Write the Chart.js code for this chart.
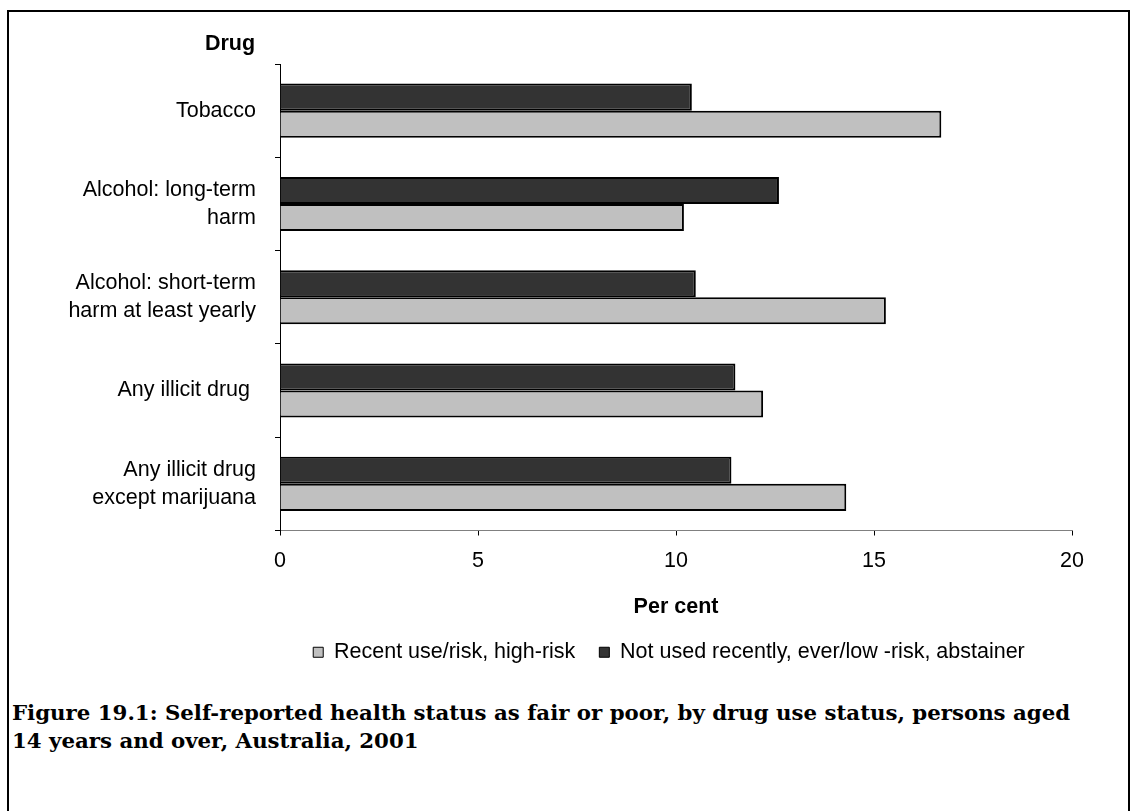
<!DOCTYPE html>
<html>
<head>
<meta charset="utf-8">
<script src="https://cdn.jsdelivr.net/npm/chart.js@4/dist/chart.umd.min.js"></script>
<style>
  body { margin: 0; background: #fff; }
  #wrap { position: relative; width: 1136px; height: 811px; overflow: hidden; }
  #frame { position: absolute; left: 7px; top: 10px; width: 1119px; height: 820px;
           border: 2px solid #000; border-bottom: none; }
  #chart { position: absolute; left: 0; top: 0; }
  #drug { position: absolute; left: 180px; width: 100px; top: 30px; text-align: center;
          font: bold 21.5px "Liberation Sans", Arial, sans-serif; line-height: 26px; }
  #caption { position: absolute; left: 12px; top: 699px; width: 1118px;
             font: bold 21.3px "DejaVu Serif", serif; line-height: 28px; color: #000; }
</style>
</head>
<body>
<div id="wrap">
  <div id="frame"></div>
  <canvas id="chart" width="1136" height="690"></canvas>
  <div id="drug">Drug</div>
  <div id="caption">Figure 19.1: Self-reported health status as fair or poor, by drug use status, persons aged<br>14 years and over, Australia, 2001</div>
</div>
<script>
// categories, top to bottom
const drugs = [
  'Tobacco',
  ['Alcohol: long-term', 'harm'],
  ['Alcohol: short-term', 'harm at least yearly'],
  'Any illicit drug ',
  ['Any illicit drug', 'except marijuana']
]
// per cent reporting fair or poor health
const recentUse = [16.7, 10.2, 15.3, 12.2, 14.3]
const notUsed = [10.4, 12.6, 10.5, 11.5, 11.4]
const xTicks = [0, 5, 10, 15, 20]

const font = "'Liberation Sans', Arial, sans-serif"

const data = {
  labels: drugs,
  datasets: [{
    label: 'Not used recently, ever/low -risk, abstainer',
    data: notUsed,
    backgroundColor: '#333333',
    borderColor: '#000',
    borderWidth: 2
  }, {
    label: 'Recent use/risk, high-risk',
    data: recentUse,
    backgroundColor: '#c0c0c0',
    borderColor: '#000',
    borderWidth: 2
  }]
}

// legend sits a bit right of the canvas centre in the original
const shiftLegend = {
  id: 'shiftLegend',
  afterLayout(c) { c.legend.left = 266 }
}

const chart = new Chart(document.getElementById('chart').getContext('2d'), {
  type: 'bar',
  data,
  plugins: [shiftLegend],
  options: {
    indexAxis: 'y',
    responsive: false,
    animation: false,
    layout: { padding: { left: 0, right: 64, top: 64, bottom: 17 } },
    datasets: { bar: { categoryPercentage: 0.58, barPercentage: 1 } },
    scales: {
      x: {
        min: 0, max: 20,
        afterBuildTicks: (scale) => { scale.ticks = xTicks.map(v => ({ value: v })) },
        afterFit: (scale) => { scale.height = 87 },
        grid: { drawOnChartArea: false, tickLength: 5, color: '#000' },
        border: { color: '#808080', width: 1 },
        ticks: { color: '#000', padding: 13, font: { family: font, size: 21.5 } },
        title: { display: true, text: 'Per cent', color: '#000', padding: 0,
                 font: { family: font, size: 21.5, weight: 'bold', lineHeight: 1.0 } }
      },
      y: {
        afterFit: (scale) => { scale.width = 280 },
        grid: { drawOnChartArea: false, offset: true, tickLength: 5, color: '#000' },
        border: { color: '#000', width: 1 },
        ticks: { color: '#000', padding: 19, font: { family: font, size: 21.5, lineHeight: 1.3 } }
      }
    },
    plugins: {
      legend: {
        position: 'bottom',
        reverse: true,
        labels: {
          color: '#000', boxWidth: 10, boxHeight: 10, padding: 24,
          font: { family: font, size: 21.5 },
          generateLabels: (c) => Chart.defaults.plugins.legend.labels.generateLabels(c)
            .map(item => ({ ...item, lineWidth: 1 }))
        }
      },
      tooltip: { enabled: false }
    }
  }
})
</script>
</body>
</html>
